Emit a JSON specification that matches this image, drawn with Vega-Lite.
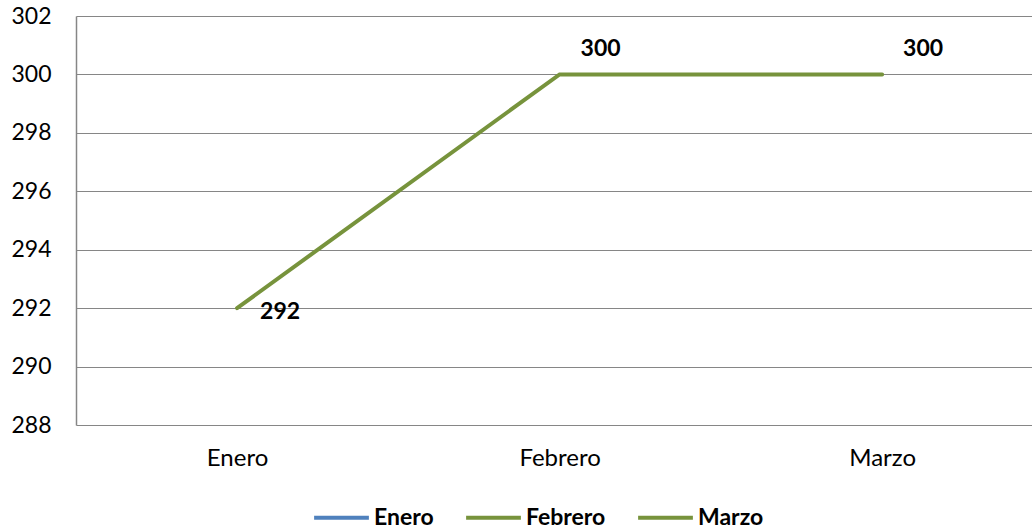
{
  "$schema": "https://vega.github.io/schema/vega-lite/v6.json",
  "width": 956,
  "height": 409,
  "autosize": {"type": "none"},
  "padding": {"left": 76, "top": 16, "right": 0, "bottom": 106},
  "background": "white",
  "config": {
    "view": {"stroke": null},
    "font": "Lato"
  },
  "data": {
    "values": [
      {"mes": "Enero", "valor": 292},
      {"mes": "Febrero", "valor": 300},
      {"mes": "Marzo", "valor": 300}
    ]
  },
  "encoding": {
    "x": {
      "field": "mes",
      "type": "nominal",
      "sort": ["Enero", "Febrero", "Marzo"],
      "scale": {"type": "point", "padding": 0.482, "align": 0.518},
      "axis": {
        "title": null,
        "domain": false,
        "ticks": false,
        "grid": false,
        "labelAngle": 0,
        "labelFont": "Lato",
        "labelFontSize": 24,
        "labelColor": "#000000",
        "labelPadding": 21
      }
    },
    "y": {
      "field": "valor",
      "type": "quantitative",
      "scale": {"domain": [288, 302], "nice": false, "zero": false},
      "axis": {
        "title": null,
        "values": [288, 290, 292, 294, 296, 298, 300, 302],
        "ticks": false,
        "domain": true,
        "domainColor": "#868686",
        "domainWidth": 1.5,
        "grid": true,
        "gridColor": "#868686",
        "gridWidth": 1,
        "labelFont": "Lato",
        "labelFontSize": 23,
        "labelColor": "#000000",
        "labelPadding": 25
      }
    }
  },
  "layer": [
    {
      "mark": {"type": "line", "strokeWidth": 4, "strokeCap": "round"},
      "encoding": {
        "color": {
          "datum": "Marzo",
          "type": "nominal",
          "scale": {
            "domain": ["Enero", "Febrero", "Marzo"],
            "range": ["#4F81BD", "#77933C", "#77933C"]
          },
          "legend": {
            "title": null,
            "orient": "none",
            "legendX": 236,
            "legendY": 472,
            "direction": "horizontal",
            "symbolType": "M-1,0H1",
            "symbolSize": 3000,
            "symbolStrokeWidth": 4,
            "labelFont": "Lato",
            "labelFontSize": 23,
            "labelFontWeight": "bold",
            "labelColor": "#000000",
            "labelOffset": 3,
            "columnPadding": 24
          }
        }
      }
    },
    {
      "transform": [{"filter": "datum.mes === 'Enero'"}],
      "mark": {"type": "text", "align": "left", "baseline": "middle", "dx": 23, "dy": 4, "fontSize": 23, "fontWeight": "bold", "font": "Lato", "color": "#000000"},
      "encoding": {"text": {"field": "valor", "type": "quantitative"}}
    },
    {
      "transform": [{"filter": "datum.mes !== 'Enero'"}],
      "mark": {"type": "text", "align": "center", "baseline": "middle", "dx": 41, "dy": -25, "fontSize": 23, "fontWeight": "bold", "font": "Lato", "color": "#000000"},
      "encoding": {"text": {"field": "valor", "type": "quantitative"}}
    }
  ]
}
